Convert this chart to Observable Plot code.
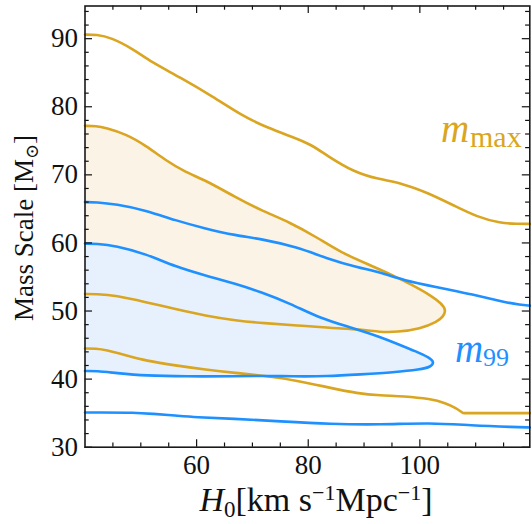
<!DOCTYPE html>
<html>
<head>
<meta charset="utf-8">
<script src="https://cdn.jsdelivr.net/npm/d3@7"></script>
<script src="https://cdn.jsdelivr.net/npm/@observablehq/plot@0.6"></script>
<style>
  body { margin: 0; background: #fff; }
</style>
</head>
<body>
<div id="chart"></div>
<script>
// ---- Data ----
// m_max (gold) outer contour: upper and lower boundaries
const goldOuterTopX = [40, 42, 44.6, 48.8, 51.8, 57.1, 63.1, 67.9, 72.7, 77.4, 80.4, 83.4, 88.2, 92.4, 97.1, 101.3, 106.1, 110.3, 114.4, 117.5, 119.7];
const goldOuterTopY = [90.6, 90.6, 90.2, 88.4, 86.6, 84.3, 81.4, 78.8, 76.9, 75.5, 74.5, 72.8, 70.4, 69.4, 68.7, 67.4, 65.5, 63.8, 62.9, 62.8, 62.8];
const goldOuterBotX = [40, 42, 43.7, 47.3, 50.9, 56.2, 61.6, 67.0, 72.1, 78.0, 84.0, 88.8, 92.9, 97.1, 101.9, 104.6, 106.6, 107.4, 107.7, 108.2, 110.5, 119.7];
const goldOuterBotY = [44.5, 44.5, 44.3, 43.5, 42.7, 42.0, 41.4, 40.9, 40.5, 39.8, 38.7, 37.9, 37.6, 37.5, 37.1, 36.5, 35.7, 35.2, 35.0, 35.0, 35.0, 35.0];
// m_max (gold) inner contour: closed region (top edge then bottom edge back)
const goldInnerX = [40, 42, 43.7, 47.3, 50.9, 54.5, 58.0, 61.6, 67.0, 71.5, 76.8, 81.6, 85.8, 91.2, 95.3, 98.9, 101.9, 103.9, 104.7, 104.2, 103.1, 100.1, 95.9, 92.9, 89.4, 84.0, 78.0, 72.1, 67.0, 61.6, 56.2, 50.9, 45.5, 42, 40];
const goldInnerY = [77.2, 77.2, 76.9, 76.0, 74.3, 72.1, 70.4, 69.2, 66.7, 64.8, 63.0, 60.8, 58.6, 56.7, 55.2, 53.7, 52.3, 51.1, 50.1, 49.2, 48.4, 47.4, 46.9, 46.9, 47.3, 47.5, 47.9, 48.2, 48.6, 49.3, 50.3, 51.3, 52.3, 52.5, 52.5];
// m_99 (blue) outer contour
const blueOuterTopX = [40, 42, 45.5, 50.9, 56.2, 61.6, 67.0, 71.5, 78.0, 83.4, 88.8, 92.9, 97.1, 103.1, 109.1, 115.1, 118, 119.7];
const blueOuterTopY = [66.0, 66.0, 65.7, 64.8, 63.3, 62.1, 61.1, 60.6, 59.4, 57.7, 56.4, 55.7, 54.5, 53.5, 52.5, 51.3, 50.9, 50.8];
const blueOuterBotX = [40, 42, 49.1, 52.1, 56.2, 59.8, 66.5, 75.0, 84.0, 92.9, 101.9, 109.1, 117, 119.7];
const blueOuterBotY = [35.1, 35.1, 35.1, 34.9, 34.65, 34.4, 34.2, 33.8, 33.4, 33.3, 33.6, 33.2, 32.95, 32.9];
// m_99 (blue) inner contour: closed region
const blueInnerX = [40, 42, 45.5, 50.9, 56.2, 61.6, 67.0, 71.5, 76.8, 82.2, 87.6, 92.9, 95.9, 99.5, 101.6, 102.6, 102.0, 100.1, 95.3, 89.4, 83.4, 77.0, 72.1, 67.0, 58.0, 50.9, 45.5, 42, 40];
const blueInnerY = [59.9, 59.9, 59.6, 58.4, 56.5, 55.2, 54.0, 52.8, 51.1, 48.9, 47.6, 46.2, 45.2, 44.0, 43.2, 42.5, 41.8, 41.4, 41.0, 40.7, 40.4, 40.4, 40.5, 40.4, 40.4, 40.5, 40.9, 41.2, 41.2];

// ticks
const xMajor = [60, 80, 100];
const xMinor = [45, 50, 55, 65, 70, 75, 85, 90, 95, 105, 110, 115];
const yMajor = [30, 40, 50, 60, 70, 80, 90];
const yMinor = [32, 34, 36, 38, 42, 44, 46, 48, 52, 54, 56, 58, 62, 64, 66, 68, 72, 74, 76, 78, 82, 84, 86, 88, 92, 94];

// labels
const goldLabel = "m";
const goldSub = "max";
const blueLabel = "m";
const blueSub = "99";

// ---- Layout ----
const W = 532, H = 524;
const mL = 84.5, mR = 2.7, mT = 5.5, mB = 77.3;
const plotW = W - mL - mR, plotH = H - mT - mB;
const FONT = "'Liberation Serif', 'DejaVu Serif', serif";
const GOLD = "#DAA520", BLUE = "#1E90FF";
const GOLD_FILL = "#faf3e6", BLUE_FILL = "#e7f1fd";
const LW = 2.6;

const rows = (xs, ys) => xs.map((x, i) => ({x, y: ys[i]}));
const C = "basis";

const plot = Plot.plot({
  width: W, height: H,
  marginLeft: mL, marginRight: mR, marginTop: mT, marginBottom: mB,
  style: {fontFamily: FONT, fontSize: "27px", background: "#fff", color: "#111"},
  x: {domain: [40, 119.7]},
  y: {domain: [30, 94.8]},
  marks: [
    // filled regions
    Plot.line(rows(goldInnerX, goldInnerY), {x: "x", y: "y", curve: C, fill: GOLD_FILL, stroke: "none"}),
    Plot.line(rows(blueInnerX, blueInnerY), {x: "x", y: "y", curve: C, fill: BLUE_FILL, stroke: "none"}),
    // gold contours
    Plot.line(rows(goldOuterTopX, goldOuterTopY), {x: "x", y: "y", curve: C, stroke: GOLD, strokeWidth: LW}),
    Plot.line(rows(goldOuterBotX, goldOuterBotY), {x: "x", y: "y", curve: C, stroke: GOLD, strokeWidth: LW}),
    Plot.line(rows(goldInnerX, goldInnerY), {x: "x", y: "y", curve: C, stroke: GOLD, strokeWidth: LW}),
    // blue contours
    Plot.line(rows(blueOuterTopX, blueOuterTopY), {x: "x", y: "y", curve: C, stroke: BLUE, strokeWidth: LW}),
    Plot.line(rows(blueOuterBotX, blueOuterBotY), {x: "x", y: "y", curve: C, stroke: BLUE, strokeWidth: LW}),
    Plot.line(rows(blueInnerX, blueInnerY), {x: "x", y: "y", curve: C, stroke: BLUE, strokeWidth: LW}),
    // inward ticks on all four sides
    Plot.tickX(xMajor, {x: d => d, insetTop: plotH - 7.5, stroke: "#111", strokeWidth: 1.2}),
    Plot.tickX(xMinor, {x: d => d, insetTop: plotH - 4.2, stroke: "#111", strokeWidth: 1.2}),
    Plot.tickX(xMajor, {x: d => d, insetBottom: plotH - 7.5, stroke: "#111", strokeWidth: 1.2}),
    Plot.tickX(xMinor, {x: d => d, insetBottom: plotH - 4.2, stroke: "#111", strokeWidth: 1.2}),
    Plot.tickY(yMajor, {y: d => d, insetRight: plotW - 7.5, stroke: "#111", strokeWidth: 1.2}),
    Plot.tickY(yMinor, {y: d => d, insetRight: plotW - 4.2, stroke: "#111", strokeWidth: 1.2}),
    Plot.tickY(yMajor, {y: d => d, insetLeft: plotW - 7.5, stroke: "#111", strokeWidth: 1.2}),
    Plot.tickY(yMinor, {y: d => d, insetLeft: plotW - 4.2, stroke: "#111", strokeWidth: 1.2}),
    // tick labels
    Plot.axisX({ticks: xMajor, tickSize: 0, tickPadding: 8, label: null, fontSize: 27}),
    Plot.axisY({ticks: yMajor, tickSize: 0, tickPadding: 7, label: null, fontSize: 27}),
    Plot.frame({stroke: "#1a1a1a", strokeWidth: 1.6}),
    // series labels
    Plot.text([goldLabel], {text: d => d, frameAnchor: "top-left", textAnchor: "start", lineAnchor: "bottom", dx: 356, dy: 136, fill: GOLD, fontSize: 39, fontStyle: "italic", fontFamily: FONT}),
    Plot.text([goldSub], {text: d => d, frameAnchor: "top-left", textAnchor: "start", lineAnchor: "bottom", dx: 385, dy: 141, fill: GOLD, fontSize: 30, fontFamily: FONT}),
    Plot.text([blueLabel], {text: d => d, frameAnchor: "top-left", textAnchor: "start", lineAnchor: "bottom", dx: 370, dy: 356, fill: BLUE, fontSize: 39, fontStyle: "italic", fontFamily: FONT}),
    Plot.text([blueSub], {text: d => d, frameAnchor: "top-left", textAnchor: "start", lineAnchor: "bottom", dx: 398, dy: 360, fill: BLUE, fontSize: 26, fontFamily: FONT})
  ]
});

// axis titles with sub/superscripts
const svg = d3.select(plot);
const xl = svg.append("text")
  .attr("x", 316).attr("y", 511)
  .attr("text-anchor", "middle")
  .attr("font-family", FONT).attr("font-size", 34).attr("fill", "#111");
xl.append("tspan").attr("font-style", "italic").text("H");
xl.append("tspan").attr("font-size", 23).attr("dy", 6).text("0");
xl.append("tspan").attr("dy", -6).text("[km s");
xl.append("tspan").attr("font-size", 22).attr("dy", -11).text("\u22121");
xl.append("tspan").attr("dy", 11).text("Mpc");
xl.append("tspan").attr("font-size", 22).attr("dy", -11).text("\u22121");
xl.append("tspan").attr("dy", 11).text("]");

const yl = svg.append("text")
  .attr("transform", "translate(33,228) rotate(-90)")
  .attr("text-anchor", "middle")
  .attr("font-family", FONT).attr("font-size", 27).attr("fill", "#111");
yl.append("tspan").text("Mass Scale [M");
yl.append("tspan").attr("font-size", 18).attr("dy", 5).text("\u2299");
yl.append("tspan").attr("dy", -5).text("]");

document.getElementById("chart").appendChild(plot);
</script>
</body>
</html>
